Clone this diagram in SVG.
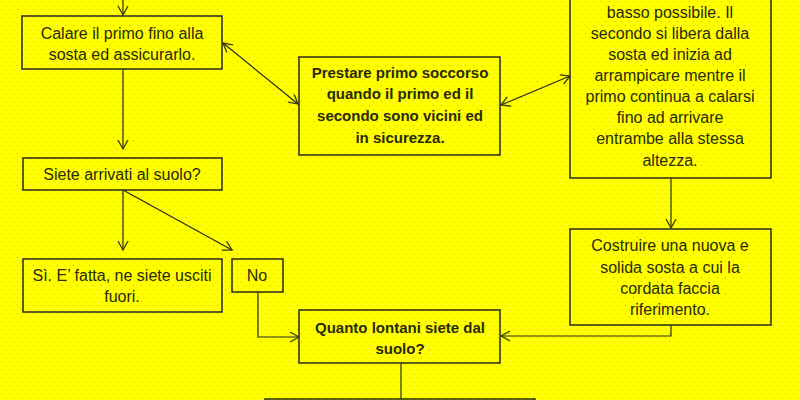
<svg xmlns="http://www.w3.org/2000/svg" width="800" height="400" viewBox="0 0 800 400">
<defs>
<pattern id="dots" width="8" height="8" patternUnits="userSpaceOnUse">
<rect width="8" height="8" fill="#ffff00"/>
<rect x="1" y="1" width="1" height="1" fill="#c4c400"/>
<rect x="5" y="5" width="1" height="1" fill="#c4c400"/>
</pattern>
<marker id="arr" markerWidth="12" markerHeight="12" refX="10" refY="6" orient="auto-start-reverse" markerUnits="userSpaceOnUse">
<path d="M1,1 L10,6 L1,11" fill="none" stroke="#3a3a10" stroke-width="1.3"/>
</marker>
<style>
.box{fill:url(#dots);stroke:#2a2a20;stroke-width:1.5}
.t{font-family:"Liberation Sans",Arial,sans-serif;font-size:16px;fill:#2a2a10;text-anchor:middle}
.b{font-weight:bold;font-size:15px}
.c{fill:none;stroke:#2a2a20;stroke-width:1.2}
</style>
</defs>
<rect width="800" height="400" fill="url(#dots)"/>
<g id="connectors">
<line class="c" x1="123" y1="0" x2="123" y2="15" marker-end="url(#arr)"/>
<line class="c" x1="123" y1="69" x2="123" y2="149" marker-end="url(#arr)"/>
<line class="c" x1="123" y1="190" x2="123" y2="250" marker-end="url(#arr)"/>
<line class="c" x1="123" y1="190" x2="232" y2="250" marker-end="url(#arr)"/>
<polyline class="c" points="258,292 258,337 299,337" marker-end="url(#arr)"/>
<polyline class="c" points="671,325 671,336 501,336" marker-end="url(#arr)"/>
<line class="c" x1="401" y1="363" x2="401" y2="400"/>
<line class="c" x1="223" y1="43" x2="298" y2="104" marker-start="url(#arr)" marker-end="url(#arr)"/>
<line class="c" x1="501" y1="105" x2="570" y2="76" marker-start="url(#arr)" marker-end="url(#arr)"/>
<line class="c" x1="671" y1="178" x2="671" y2="228" marker-end="url(#arr)"/>
</g>
<g id="nodeA">
<rect class="box" x="22" y="16" width="200" height="53"/>
<text class="t" x="122" y="39">Calare il primo fino alla</text>
<text class="t" x="122" y="60">sosta ed assicurarlo.</text>
</g>
<g id="nodeB">
<rect class="box" x="23" y="158" width="199" height="32"/>
<text class="t" x="122" y="180">Siete arrivati al suolo?</text>
</g>
<g id="nodeC">
<rect class="box" x="23" y="259" width="199" height="53"/>
<text class="t" x="122" y="281">Sì. E’ fatta, ne siete usciti</text>
<text class="t" x="122" y="302">fuori.</text>
</g>
<g id="nodeNo">
<rect class="box" x="232" y="259" width="51" height="33"/>
<text class="t" x="257" y="281">No</text>
</g>
<g id="nodeD">
<rect class="box" x="299" y="310" width="201" height="53"/>
<text class="t b" x="400" y="333">Quanto lontani siete dal</text>
<text class="t b" x="400" y="354">suolo?</text>
</g>
<g id="nodeE">
<rect class="box" x="299" y="57" width="201" height="98"/>
<text class="t b" x="400" y="78">Prestare primo soccorso</text>
<text class="t b" x="400" y="99">quando il primo ed il</text>
<text class="t b" x="400" y="121">secondo sono vicini ed</text>
<text class="t b" x="400" y="143">in sicurezza.</text>
</g>
<g id="nodeF">
<rect class="box" x="570" y="-10" width="201" height="188"/>
<text class="t" x="670" y="18">basso possibile. Il</text>
<text class="t" x="670" y="39">secondo si libera dalla</text>
<text class="t" x="670" y="60">sosta ed inizia ad</text>
<text class="t" x="670" y="81">arrampicare mentre il</text>
<text class="t" x="670" y="102">primo continua a calarsi</text>
<text class="t" x="670" y="123">fino ad arrivare</text>
<text class="t" x="670" y="144">entrambe alla stessa</text>
<text class="t" x="670" y="166">altezza.</text>
</g>
<g id="nodeG">
<rect class="box" x="570" y="229" width="201" height="96"/>
<text class="t" x="670" y="251">Costruire una nuova e</text>
<text class="t" x="670" y="273">solida sosta a cui la</text>
<text class="t" x="670" y="294">cordata faccia</text>
<text class="t" x="670" y="315">riferimento.</text>
</g>
<g id="nodeH">
<rect class="box" x="265" y="399" width="270" height="20"/>
</g>
</svg>
